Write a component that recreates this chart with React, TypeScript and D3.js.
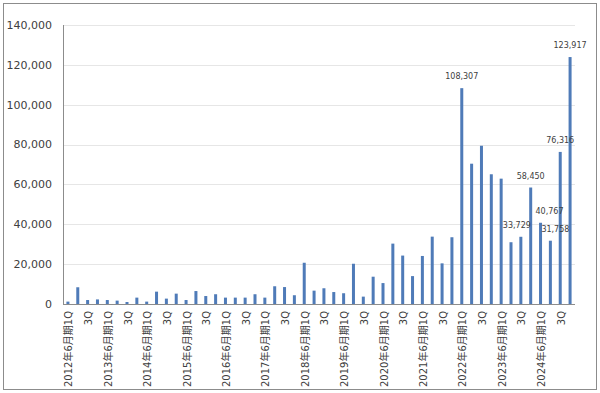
import { useEffect, useRef } from 'react';
import * as d3 from 'd3';

const years = ['2012', '2013', '2014', '2015', '2016', '2017', '2018', '2019', '2020', '2021', '2022', '2023', '2024'];
const quarters = ['1Q', '2Q', '3Q', '4Q'];

// quarterly values, 2012年6月期1Q .. 2024年6月期4Q
const values = [
  1200, 8400, 2000, 2300,
  2000, 1700, 1000, 3200,
  1200, 6200, 2700, 5200,
  2000, 6500, 4000, 4900,
  3200, 3200, 3200, 4900,
  3200, 8900, 8500, 4400,
  20700, 6700, 7900, 6000,
  5400, 20200, 3700, 13700,
  10500, 30300, 24300, 14000,
  24100, 33800, 20400, 33500,
  108307, 70400, 79400, 65100,
  62900, 31000, 33729, 58450,
  40767, 31758, 76316, 123917,
];

const yTicks = [0, 20000, 40000, 60000, 80000, 100000, 120000, 140000];

// bars that carry a value label
const labeled = ['2022年6月期1Q', '2023年6月期3Q', '2023年6月期4Q', '2024年6月期1Q', '2024年6月期2Q', '2024年6月期3Q', '2024年6月期4Q'];
const labelShift: Record<string, number> = { '2023年6月期3Q': -4, '2024年6月期1Q': 9, '2024年6月期2Q': 5 };

export default function App() {
  const svgRef = useRef<SVGSVGElement>(null);

  useEffect(() => {
    if (!svgRef.current) return;
    const svg = d3.select(svgRef.current);
    svg.selectAll('*').remove();

    const width = 600;
    const height = 393;
    const margin = { top: 25, right: 25, bottom: 89, left: 63 };
    const font = '"DejaVu Sans", Verdana, "Noto Sans CJK JP", sans-serif';

    const categories = years.flatMap(y => quarters.map(q => `${y}年6月期${q}`));
    const data = categories.map((c, i) => ({ cat: c, q: quarters[i % 4], value: values[i] }));

    const x = d3.scaleBand<string>()
      .domain(categories)
      .range([margin.left, width - margin.right]);

    const y = d3.scaleLinear()
      .domain([0, 140000])
      .range([height - margin.bottom, margin.top]);

    // Outer frame
    svg.append('rect')
      .attr('x', 3.5)
      .attr('y', 3.5)
      .attr('width', 593)
      .attr('height', 386)
      .attr('fill', '#fff')
      .attr('stroke', '#8c8c8c');

    // Grid lines
    svg.append('g')
      .selectAll('line')
      .data(yTicks.slice(1))
      .join('line')
      .attr('x1', margin.left)
      .attr('x2', width - margin.right)
      .attr('y1', d => Math.round(y(d)) + 0.5)
      .attr('y2', d => Math.round(y(d)) + 0.5)
      .attr('stroke', '#e6e6e6');

    // Y axis labels
    svg.append('g')
      .selectAll('text')
      .data(yTicks)
      .join('text')
      .attr('x', 52)
      .attr('y', d => y(d))
      .attr('dy', '0.35em')
      .attr('text-anchor', 'end')
      .style('font-family', font)
      .style('font-size', '11px')
      .attr('fill', '#404040')
      .text(d => d3.format(',')(d));

    // Bars
    const barW = 3;
    svg.append('g')
      .selectAll('rect')
      .data(data)
      .join('rect')
      .attr('x', d => (x(d.cat) as number) + x.bandwidth() / 2 - barW / 2)
      .attr('y', d => y(d.value))
      .attr('width', barW)
      .attr('height', d => y(0) - y(d.value))
      .attr('fill', '#4f7bb8');

    // Axis lines
    svg.append('line')
      .attr('x1', margin.left + 0.5)
      .attr('x2', margin.left + 0.5)
      .attr('y1', margin.top)
      .attr('y2', y(0))
      .attr('stroke', '#8c8c8c');

    svg.append('line')
      .attr('x1', margin.left)
      .attr('x2', width - margin.right)
      .attr('y1', Math.round(y(0)) + 0.5)
      .attr('y2', Math.round(y(0)) + 0.5)
      .attr('stroke', '#8c8c8c');

    // X labels (1Q with year, 3Q alone)
    svg.append('g')
      .selectAll('text')
      .data(data.filter(d => d.q === '1Q' || d.q === '3Q'))
      .join('text')
      .attr('transform', d => `translate(${(x(d.cat) as number) + x.bandwidth() / 2 + 1},${y(0) + 7}) rotate(-90)`)
      .attr('dy', '0.35em')
      .attr('text-anchor', 'end')
      .style('font-family', font)
      .style('font-size', '10px')
      .attr('fill', '#404040')
      .text(d => (d.q === '1Q' ? d.cat : d.q));

    // Value labels
    svg.append('g')
      .selectAll('text')
      .data(data.filter(d => labeled.includes(d.cat)))
      .join('text')
      .attr('x', d => (x(d.cat) as number) + x.bandwidth() / 2 + (labelShift[d.cat] || 0))
      .attr('y', d => y(d.value) - 9)
      .attr('text-anchor', 'middle')
      .style('font-family', font)
      .style('font-size', '8px')
      .attr('fill', '#404040')
      .text(d => d3.format(',')(d.value));
  }, []);

  return (
    <svg
      ref={svgRef}
      width={600}
      height={393}
      style={{ position: 'absolute', left: 0, top: 0, background: '#fff' }}
    />
  );
}
